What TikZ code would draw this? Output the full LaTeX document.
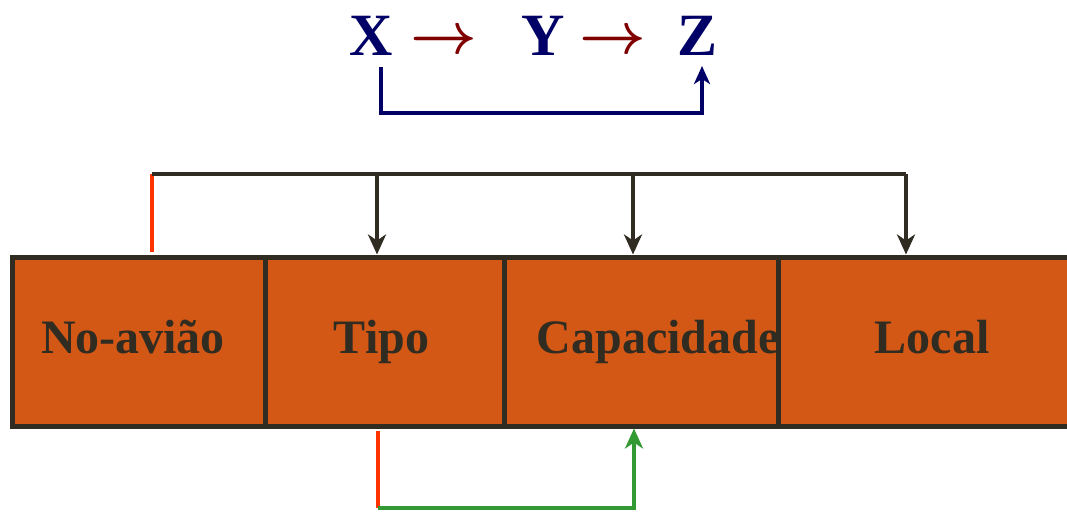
\documentclass[tikz,border=0pt]{standalone}
\usepackage{fontspec}
\setmainfont{Liberation Serif}
\usetikzlibrary{arrows.meta}
\definecolor{cellfill}{HTML}{D35815}
\definecolor{ink}{HTML}{302C22}
\definecolor{keyred}{HTML}{FF3300}
\definecolor{depgreen}{HTML}{339933}
\definecolor{navy}{HTML}{000066}
\definecolor{darkred}{HTML}{800000}
\newcommand{\bigto}{\scalebox{5.8}{\boldmath$\rightarrow$}}
\tikzset{
  cell/.style={draw=ink, fill=cellfill, line width=5pt, rectangle, inner sep=0pt,
    minimum height=169pt, text height=34pt, text depth=11pt, text=ink,
    font=\fontsize{48}{48}\selectfont\bfseries},
  letter/.style={anchor=base, text=navy, font=\fontsize{60}{60}\selectfont\bfseries, inner sep=0pt},
  symarrow/.style={anchor=base, text=darkred, inner sep=0pt},
  bus/.style={draw=ink, line width=4pt},
  busarrow/.style={bus, -{Stealth[length=20pt,width=18pt,inset=6pt]}},
  keyline/.style={draw=keyred, line width=4pt},
  depline/.style={draw=depgreen, line width=4pt},
  transline/.style={draw=navy, line width=4pt},
}
\begin{document}
\begin{tikzpicture}[x=1pt,y=-1pt]
\useasboundingbox (0,0) rectangle (1067,511);
\clip (0,0) rectangle (1067,511);

% X -> Y -> Z
\node[letter] (X) at (371,56) {X};
\node[symarrow] (a1) at (444,53.5) {\bigto};
\node[letter] (Y) at (543,56) {Y};
\node[symarrow] (a2) at (612.5,53.5) {\bigto};
\node[letter] (Z) at (697,56) {Z};
\coordinate (xl) at (381,113);
\coordinate (zl) at (702,113);
\draw[transline, -{Stealth[length=18pt,width=16pt,inset=5pt]}]
  (xl |- 0,67) -- (xl) -- (zl) -- (zl |- 0,66);

% relation cells
\node[cell, minimum width=253pt] (c1) at (138.5,341.5) {\hspace*{-11pt}No-avião};
\node[cell, minimum width=241pt] (c2) at (385.5,341.5) {\hspace*{-8pt}Tipo};
\node[cell, minimum width=272pt] (c3) at (642,341.5) {\hspace*{32pt}Capacidade};
\node[cell, minimum width=300pt] (c4) at (928,341.5) {\hspace*{8pt}Local};

% dependencies of the key No-avião
\coordinate (k) at (152,174);
\coordinate (t1) at (377,174);
\coordinate (t2) at (633,174);
\coordinate (t3) at (906,174);
\draw[keyline] (k |- c1.north) ++(0,-2.5) -- (k);
\draw[bus] (k) -- (t3);
\draw[busarrow] (t1) -- (t1 |- c2.north);
\draw[busarrow] (t2) -- (t2 |- c3.north);
\draw[busarrow] (t3) -- (t3 |- c4.north);

% Tipo determines Capacidade
\coordinate (b1) at (378,508);
\coordinate (b2) at (634,508);
\draw[keyline] (b1 |- c2.south) ++(0,2.5) -- (b1);
\draw[depline, -{Stealth[length=20pt,width=18pt,inset=6pt]}] (b1) -- (b2) -- (b2 |- c3.south);
\end{tikzpicture}
\end{document}
